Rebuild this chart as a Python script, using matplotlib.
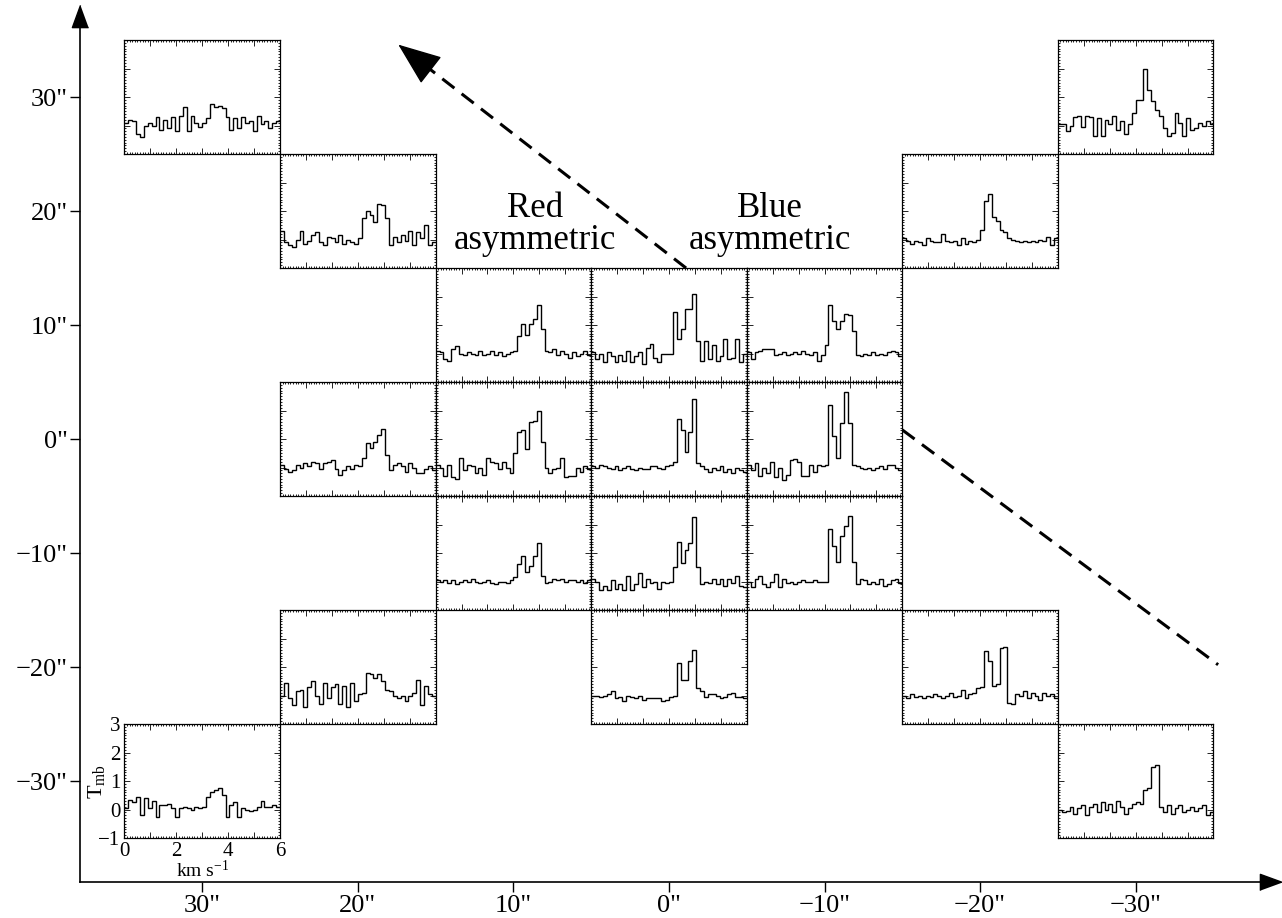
import numpy as np
import matplotlib
matplotlib.use('Agg')
import matplotlib.pyplot as plt
from matplotlib.ticker import MultipleLocator

plt.rcParams['font.family'] = ['Liberation Serif', 'DejaVu Serif']
plt.rcParams['mathtext.fontset'] = 'custom'
plt.rcParams['mathtext.rm'] = 'Liberation Serif'
plt.rcParams['mathtext.it'] = 'Liberation Serif:italic'

# map offsets (arcsec) shown on the outer axes
offset_ticks = [30, 20, 10, 0, -10, -20, -30]
offset_labels = ['30"', '20"', '10"', '0"', '\u221210"', '\u221220"', '\u221230"']

# velocity channels of every spectrum (km/s), 40 channels of 0.15 km/s
chan_width = 0.15
n_chan = 40

# spectra: T_mb per channel, named by (RA offset, Dec offset)
spec_30_30 = [0.1, 0.2, 0.15, -0.3, -0.4, 0.0, 0.1, 0.0, 0.3, -0.15, 0.2, -0.1,
              0.3, -0.2, 0.35, 0.65, -0.2, 0.35, 0.1, -0.05, 0.1, 0.25, 0.75, 0.65,
              0.7, 0.6, 0.3, -0.15, 0.25, -0.1, 0.3, 0.1, 0.15, -0.2, 0.35, 0.05,
              0.15, -0.1, 0.1, 0.15]
spec_m30_30 = [0.05, 0.05, -0.2, 0.0, 0.3, 0.35, -0.05, 0.35, 0.3, -0.35, 0.25, -0.35,
               0.2, 0.05, 0.35, -0.15, 0.15, -0.3, 0.05, 0.45, 0.9, 0.9, 2.0, 1.25,
               0.85, 0.55, 0.35, -0.1, -0.35, -0.25, 0.45, 0.1, -0.35, 0.25, -0.15, -0.1,
               0.1, 0.0, 0.15, 0.05]
spec_20_20 = [0.3, -0.1, -0.2, -0.25, 0.0, 0.3, -0.15, -0.05, 0.15, 0.25, -0.1, -0.2,
              0.1, 0.05, -0.1, 0.15, -0.15, 0.0, -0.1, -0.15, 0.05, 0.75, 1.0, 0.85,
              0.6, 1.25, 1.2, 0.75, -0.2, 0.1, -0.1, 0.15, -0.05, 0.3, -0.2, 0.25,
              0.05, 0.5, -0.2, -0.1]
spec_m20_20 = [0.05, -0.05, -0.15, -0.05, -0.1, -0.2, 0.05, -0.05, -0.1, -0.1, 0.2, -0.05,
               -0.1, -0.05, -0.2, 0.05, -0.15, -0.05, -0.1, 0.0, 0.35, 1.35, 1.6, 0.8,
               0.65, 0.35, 0.25, 0.05, 0.0, -0.05, -0.1, -0.05, -0.1, -0.05, -0.1, 0.0,
               -0.05, 0.1, -0.2, 0.05]
spec_10_10 = [0.1, 0.05, -0.2, -0.25, 0.15, 0.25, 0.0, -0.05, 0.05, 0.0, -0.05, 0.1,
              -0.05, 0.0, 0.1, -0.05, 0.05, -0.1, 0.0, 0.05, 0.1, 0.6, 1.05, 0.65,
              1.05, 1.2, 1.7, 0.85, 0.1, 0.05, 0.15, -0.05, 0.1, 0.0, -0.15, 0.05,
              -0.1, 0.0, 0.1, -0.05]
spec_0_10 = [0.05, -0.2, 0.0, -0.3, 0.05, -0.1, -0.3, -0.05, -0.25, 0.1, -0.3, -0.1,
             0.05, -0.35, 0.2, 0.35, -0.15, -0.3, 0.0, 0.0, 0.0, 1.45, 0.5, 0.85,
             1.55, 1.55, 2.1, 0.45, -0.25, 0.45, -0.2, 0.3, -0.25, -0.1, 0.5, -0.2,
             -0.15, 0.5, -0.3, 0.0]
spec_m10_10 = [0.05, -0.2, 0.05, 0.1, 0.15, 0.15, 0.15, -0.05, 0.0, 0.05, -0.05, 0.0,
               0.05, 0.0, 0.1, 0.0, -0.05, 0.05, -0.25, -0.05, 0.3, 1.7, 1.15, 0.85,
               1.15, 1.4, 1.35, 0.8, -0.05, -0.1, 0.0, -0.05, 0.05, -0.05, 0.0, -0.05,
               0.05, 0.1, 0.05, -0.1]
spec_20_0 = [0.1, -0.05, -0.15, -0.1, 0.1, 0.0, 0.15, 0.05, 0.2, 0.15, -0.05, 0.15,
             0.2, 0.25, -0.05, -0.25, -0.1, 0.05, -0.05, 0.1, 0.05, 0.35, 0.85, 0.7,
             0.9, 1.15, 1.35, 0.45, -0.1, 0.1, 0.15, 0.05, -0.15, 0.15, 0.0, -0.2,
             -0.2, -0.05, 0.05, -0.1]
spec_10_0 = [0.1, 0.0, -0.3, 0.1, -0.35, -0.4, 0.35, -0.1, 0.1, 0.05, -0.2, 0.0,
             -0.25, 0.35, 0.2, 0.15, -0.05, 0.2, 0.0, -0.2, 0.5, 1.25, 1.3, 0.65,
             1.6, 1.65, 2.0, 0.9, 0.0, -0.2, -0.05, 0.0, 0.35, -0.35, -0.3, -0.3,
             0.0, -0.15, 0.05, -0.05]
spec_0_0 = [0.05, 0.0, 0.1, 0.05, 0.0, -0.05, 0.05, -0.1, 0.0, 0.05, -0.05, -0.1,
            0.0, -0.05, -0.05, 0.05, 0.05, 0.0, -0.05, 0.05, 0.1, 0.2, 1.7, 1.3,
            0.55, 1.25, 2.4, 0.15, 0.05, -0.05, -0.15, 0.0, -0.1, 0.05, -0.15, -0.05,
            -0.2, 0.0, -0.1, -0.15]
spec_m10_0 = [0.1, -0.1, 0.15, -0.3, 0.0, -0.2, 0.2, -0.35, 0.0, -0.45, -0.25, 0.25,
              0.3, 0.2, -0.3, -0.3, 0.1, -0.15, 0.1, 0.05, 0.1, 2.2, 1.1, 0.35,
              1.55, 2.65, 1.55, 0.1, 0.05, 0.0, -0.05, 0.0, -0.1, 0.0, 0.05, -0.05,
              0.1, 0.1, 0.0, -0.1]
spec_10_m10 = [0.05, 0.0, 0.05, -0.05, 0.05, -0.1, 0.0, 0.05, 0.0, 0.1, 0.0, -0.05,
               0.0, 0.05, -0.05, -0.1, 0.0, 0.0, -0.05, 0.05, 0.15, 0.6, 0.9, 0.35,
               0.55, 0.9, 1.35, 0.2, -0.05, 0.0, 0.1, 0.05, 0.1, 0.0, 0.05, 0.05,
               0.0, 0.05, -0.05, 0.05]
spec_0_m10 = [0.1, 0.0, -0.3, -0.15, -0.3, 0.05, -0.25, -0.1, -0.3, 0.2, -0.3, -0.1,
              0.3, -0.2, 0.1, -0.05, 0.0, -0.25, 0.0, -0.05, 0.0, 0.5, 1.4, 0.65,
              1.1, 1.35, 2.25, 0.5, -0.1, 0.0, -0.05, 0.1, -0.1, 0.1, -0.15, 0.1,
              -0.05, 0.2, -0.15, -0.2]
spec_m10_m10 = [0.0, -0.2, 0.1, 0.2, -0.1, -0.2, 0.0, 0.25, -0.2, 0.1, -0.05, 0.0,
                -0.1, 0.0, 0.05, 0.0, 0.0, 0.05, 0.0, 0.0, 0.0, 1.85, 1.25, 0.7,
                1.6, 1.95, 2.3, 0.7, -0.1, 0.1, 0.05, -0.1, 0.0, -0.1, 0.1, -0.15,
                -0.1, 0.05, 0.1, -0.05]
spec_20_m20 = [0.0, 0.45, -0.1, -0.35, 0.15, 0.2, -0.4, 0.3, 0.5, 0.0, -0.3, 0.45,
               -0.1, 0.3, 0.4, -0.3, 0.35, -0.4, 0.45, -0.2, 0.05, 0.1, 0.8, 0.75,
               0.6, 0.75, 0.5, 0.2, 0.15, 0.0, -0.1, 0.0, -0.2, 0.0, 0.1, 0.55,
               -0.35, 0.35, 0.05, 0.0]
spec_0_m20 = [0.0, 0.0, -0.05, 0.0, 0.05, 0.15, -0.1, -0.05, -0.2, 0.0, -0.05, -0.1,
              0.0, -0.15, -0.1, -0.1, -0.1, -0.1, -0.2, -0.15, -0.05, 0.0, 1.15, 0.55,
              0.55, 1.2, 1.6, 0.25, 0.15, -0.05, 0.05, 0.05, 0.0, -0.1, -0.05, 0.05,
              0.1, -0.05, -0.05, -0.1]
spec_m20_m20 = [0.0, -0.1, 0.05, -0.05, 0.0, -0.1, 0.0, -0.05, 0.05, 0.0, -0.1, 0.0,
                0.1, -0.05, 0.0, 0.2, -0.1, 0.05, 0.1, 0.25, 0.3, 1.55, 1.2, 0.35,
                0.4, 1.65, 1.7, -0.25, -0.3, 0.05, 0.0, 0.15, -0.1, 0.1, 0.0, -0.15,
                0.1, 0.0, 0.05, -0.1]
spec_30_m30 = [0.05, 0.35, 0.25, 0.45, -0.2, 0.4, 0.05, 0.3, -0.25, 0.15, 0.15, 0.2,
               0.05, -0.25, 0.05, 0.1, 0.05, 0.0, 0.1, 0.05, 0.1, 0.45, 0.6, 0.7,
               0.75, 0.5, -0.25, 0.15, 0.25, -0.25, 0.05, 0.0, -0.05, 0.0, 0.1, 0.3,
               0.1, 0.1, 0.15, 0.1]
spec_m30_m30 = [0.0, -0.1, -0.05, 0.1, -0.15, 0.05, 0.15, -0.2, 0.1, 0.2, -0.1, 0.25,
                0.0, 0.2, -0.1, 0.3, 0.1, -0.15, 0.05, 0.2, 0.25, 0.2, 0.7, 0.75,
                1.5, 1.55, 0.1, -0.1, 0.15, -0.15, 0.05, 0.15, -0.1, 0.0, 0.1, -0.05,
                0.05, 0.15, -0.2, -0.1]

panels = [
    (30, 30, spec_30_30), (-30, 30, spec_m30_30),
    (20, 20, spec_20_20), (-20, 20, spec_m20_20),
    (10, 10, spec_10_10), (0, 10, spec_0_10), (-10, 10, spec_m10_10),
    (20, 0, spec_20_0), (10, 0, spec_10_0), (0, 0, spec_0_0), (-10, 0, spec_m10_0),
    (10, -10, spec_10_m10), (0, -10, spec_0_m10), (-10, -10, spec_m10_m10),
    (20, -20, spec_20_m20), (0, -20, spec_0_m20), (-20, -20, spec_m20_m20),
    (30, -30, spec_30_m30), (-30, -30, spec_m30_m30),
]

# dashed outflow direction (arcsec offsets)
arrow_start, arrow_end = np.array([-1.1, 15.0]), np.array([17.4, 34.6])
line_start, line_end = (-15.0, 0.8), (-35.3, -19.8)

fig = plt.figure(figsize=(12.82, 9.18), dpi=100)
W, H = 1282.0, 918.0
ax = fig.add_axes([80 / W, 1 - 882 / H, (1271 - 80) / W, (882 - 16) / H])
ax.set_xlim(37.86, -38.70)
ax.set_ylim(-38.86, 37.11)
for side in ['top', 'right']:
    ax.spines[side].set_visible(False)
for side in ['left', 'bottom']:
    ax.spines[side].set_linewidth(1.2)
ax.set_xticks(offset_ticks)
ax.set_xticklabels(offset_labels)
ax.set_yticks(offset_ticks)
ax.set_yticklabels(offset_labels)
ax.tick_params(direction='out', length=7, width=1, labelsize=19, pad=2)

head = [(0, 1), (-0.73, -1), (0.73, -1)]
ax.plot(0, 1, marker=head, ms=16, color='k', transform=ax.transAxes, clip_on=False)
ax.plot(1, 0, marker=[(1, 0), (-1, 0.73), (-1, -0.73)], ms=16, color='k',
        transform=ax.transAxes, clip_on=False)

# dashed line, then a solid filled head at its end
head_base = arrow_end - 0.08 * (arrow_end - arrow_start)
ax.plot([arrow_start[0], head_base[0]], [arrow_start[1], head_base[1]],
        color='k', lw=2.2, ls=(0, (5, 3)))
ax.annotate('', xy=arrow_end, xytext=head_base,
            arrowprops=dict(arrowstyle='-|>,head_length=1.4,head_width=0.55',
                            lw=1, color='k', mutation_scale=20,
                            shrinkA=0, shrinkB=0))
ax.plot([line_start[0], line_end[0]], [line_start[1], line_end[1]],
        color='k', lw=2.2, ls=(0, (5, 3)))

ax.text(8.6, 18.8, 'Red\nasymmetric', ha='center', va='center', fontsize=25,
        linespacing=0.95)
ax.text(-6.5, 18.8, 'Blue\nasymmetric', ha='center', va='center', fontsize=25,
        linespacing=0.95)

edges = np.arange(n_chan + 1) * chan_width
to_fig = fig.transFigure.inverted()

for ra, dec, spec in panels:
    (x0, y0) = to_fig.transform(ax.transData.transform((ra + 5, dec - 5)))
    (x1, y1) = to_fig.transform(ax.transData.transform((ra - 5, dec + 5)))
    pax = fig.add_axes([x0, y0, x1 - x0, y1 - y0])
    pax.stairs(spec, edges, color='k', lw=1.0, baseline=None)
    pax.set_xlim(0, 6)
    pax.set_ylim(-1, 3)
    pax.xaxis.set_major_locator(MultipleLocator(1))
    pax.xaxis.set_minor_locator(MultipleLocator(0.1))
    pax.yaxis.set_major_locator(MultipleLocator(1))
    pax.yaxis.set_minor_locator(MultipleLocator(0.1))
    pax.tick_params(which='both', direction='in', top=True, right=True, width=0.6)
    pax.tick_params(which='major', length=4)
    pax.tick_params(which='minor', length=1.5)
    for sp in pax.spines.values():
        sp.set_linewidth(0.9)
    if (ra, dec) == (30, -30):
        pax.set_xticks(range(7))
        pax.set_xticklabels(['0', '', '2', '', '4', '', '6'])
        pax.set_yticks(range(-1, 4))
        pax.set_yticklabels(['\u22121', '0', '1', '2', '3'])
        pax.tick_params(which='major', labelsize=15, pad=3)
        pax.set_ylabel(r'T$_{\rm mb}$', fontsize=16)
        pax.yaxis.set_label_coords(-0.115, 0.5)
        pax.set_xlabel(r'km s$^{-1}$', fontsize=14)
        pax.xaxis.set_label_coords(0.5, -0.19)
    else:
        pax.tick_params(labelbottom=False, labelleft=False)

fig.savefig('out.png', dpi=100)
